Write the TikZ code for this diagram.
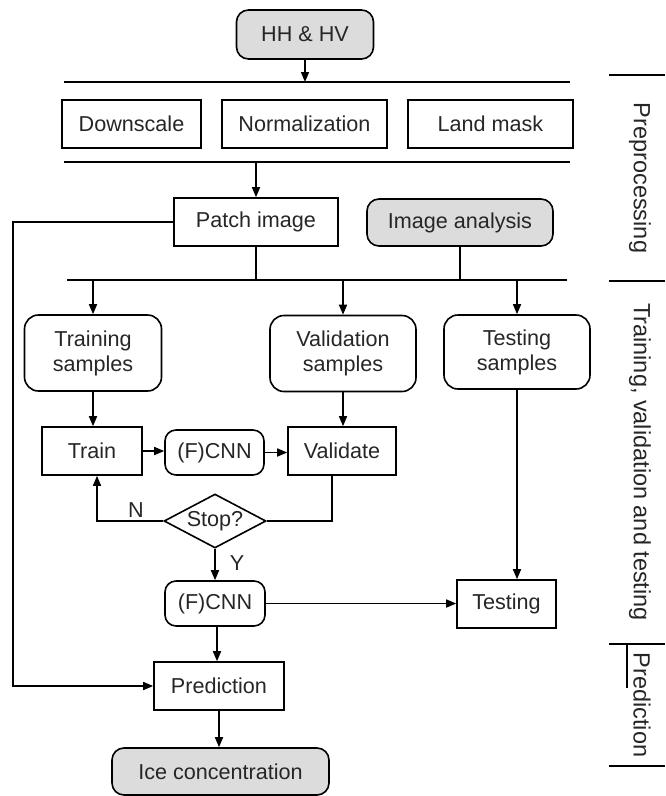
\documentclass[tikz,border=0pt]{standalone}
\usepackage{fontspec}
\setmainfont{Liberation Sans}
\usetikzlibrary{positioning,arrows.meta,shapes.geometric}
\definecolor{termgray}{HTML}{DCDCDC}
\newcommand{\flowfont}{\fontsize{21.6}{25}\selectfont}
\newcommand{\phasefont}{\fontsize{23.5}{27}\selectfont}
\tikzset{
  flowarrow/.style={-{Triangle[length=10pt,width=8pt]}, line width=1.6pt},
  flowline/.style={line width=1.6pt},
  stepbox/.style={draw, line width=1.6pt, inner sep=0pt, minimum height=48pt, align=center},
  termbox/.style={stepbox, rounded corners=12pt, fill=termgray},
  sampbox/.style={stepbox, rounded corners=14pt, minimum height=76pt},
  netbox/.style={stepbox, rounded corners=11pt, minimum height=45pt},
  decision/.style={draw, diamond, aspect=1.9, line width=1.6pt, inner sep=0pt, minimum width=102pt, minimum height=54pt},
  phase/.style={rotate=-90, font=\phasefont},
  relabel/.style={inner sep=0pt}
}

\begin{document}
\begin{tikzpicture}[x=1pt, y=-1pt, every node/.style={font=\flowfont, text=black!85}]
  \useasboundingbox (0,0) rectangle (665,796);
  % input and preprocessing
  \node[termbox, minimum width=137pt, minimum height=49pt] (hhhv) at (305,34.5) {HH \& HV};
  \coordinate (barA) at (64,82);  \coordinate (barAend) at (570,82);
  \node[stepbox, minimum width=139pt] (down) at (131.5,124) {Downscale};
  \node[stepbox, minimum width=165pt] (norm) at (304.5,124) {Normalization};
  \node[stepbox, minimum width=165pt] (land) at (490.5,124) {Land mask};
  \coordinate (barB) at (64,162); \coordinate (barBend) at (570,162);
  \node[stepbox, minimum width=164pt] (patch) at (256,222) {Patch image};
  \node[termbox, minimum width=186pt, minimum height=47pt] (analysis) at (460,222.5) {Image analysis};
  \coordinate (barC) at (67,280); \coordinate (barCend) at (567,280);
  % training, validation and testing
  \node[sampbox, minimum width=137pt] (trsamp) at (93,353) {Training\\samples};
  \node[sampbox, minimum width=146pt] (valsamp) at (343,353.5) {Validation\\samples};
  \node[sampbox, minimum width=146pt, minimum height=74pt] (tesamp) at (517,352) {Testing\\samples};
  \node[stepbox, minimum width=100pt] (train) at (92,451) {Train};
  \node[netbox, minimum width=99pt] (cnn1) at (214.5,452.5) {(F)CNN};
  \node[stepbox, minimum width=108pt] (valid) at (342,451) {Validate};
  \node[decision] (stop) at (215,521) {Stop?};
  \node[netbox, minimum width=100pt] (cnn2) at (215,603.5) {(F)CNN};
  \node[stepbox, minimum width=99pt] (testing) at (506.5,604) {Testing};
  % prediction
  \node[stepbox, minimum width=130pt] (pred) at (219,686) {Prediction};
  \node[termbox, minimum width=217pt, minimum height=47pt] (ice) at (220.5,771.5) {Ice concentration};
  \node[relabel] (nlab) at (136,510) {N};
  \node[relabel] (ylab) at (237,563) {Y};

  \draw[flowarrow] (hhhv.south) -- (hhhv.south |- barA);
  \draw[flowline] (barA) -- (barAend);
  \draw[flowline] (barB) -- (barBend);
  \draw[flowarrow] (patch.north |- barB) -- (patch.north);
  \draw[flowline] (patch.south) -- (patch.south |- barC);
  \draw[flowline] (analysis.south) -- (analysis.south |- barC);
  \draw[flowline] (barC) -- (barCend);
  \foreach \s in {trsamp, valsamp, tesamp}
    \draw[flowarrow] (\s.north |- barC) -- (\s.north);
  \draw[flowarrow] (trsamp.south) -- (trsamp.south |- train.north);
  \draw[flowarrow] (valsamp.south) -- (valsamp.south |- valid.north);
  \draw[flowarrow] (train.east) -- (train.east -| cnn1.west);
  \draw[flowarrow] (cnn1.east) -- (cnn1.east -| valid.west);
  \draw[flowline] ([xshift=-10pt]valid.south) |- (stop.east);
  \draw[flowarrow] (stop.west) -| ([xshift=5pt]train.south);
  \draw[flowarrow] (stop.south) -- (cnn2.north);
  \draw[flowarrow] (tesamp.south) -- (tesamp.south |- testing.north);
  \draw[flowarrow] (cnn2.east) -- (cnn2.east -| testing.west);
  \draw[flowarrow] ([xshift=2pt]cnn2.south) -- ([xshift=2pt]cnn2.south |- pred.north);
  \draw[flowarrow] (pred.south) -- (pred.south |- ice.north);
  \draw[flowarrow] (patch.west) -- ++(-160,0) |- (pred.west);

  % phase labels on the right
  \foreach \y in {75,281,644,766}
    \draw[flowline] (609,\y) -- (665,\y);
  \draw[flowline] (627,644) -- (627,688);
  \node[phase] (prep) at (640,178) {Preprocessing};
  \node[phase] (tvt) at (640,462) {Training, validation and testing};
  \node[phase] (predphase) at (642,705) {Prediction};
\end{tikzpicture}
\end{document}
